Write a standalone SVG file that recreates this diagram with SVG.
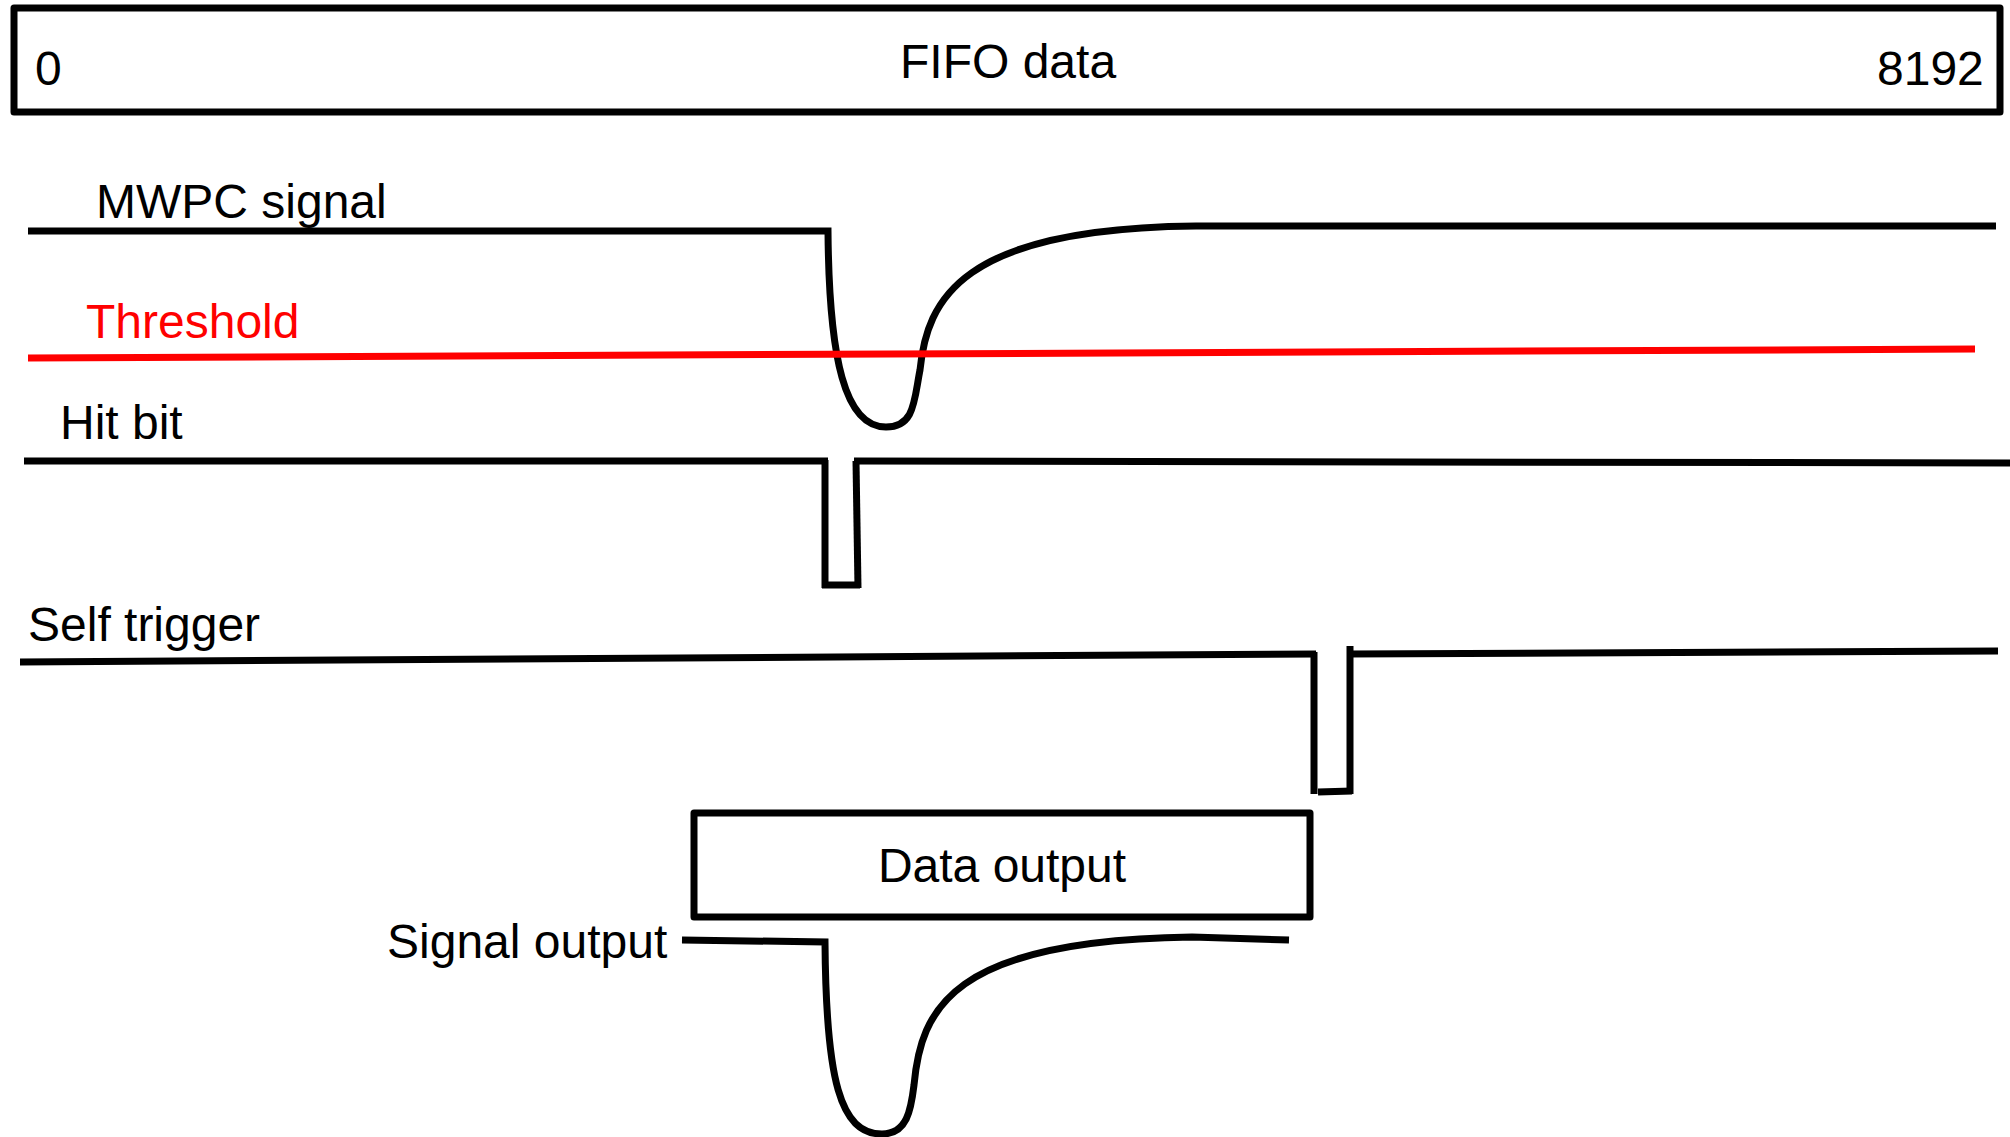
<svg xmlns="http://www.w3.org/2000/svg" width="2010" height="1137" viewBox="0 0 2010 1137">
<style>
  .lbl { font-family: "Liberation Sans", Arial, sans-serif; font-size: 48px; fill: #000; }
  .red { fill: #ff0000; }
  .box { fill: #fff; stroke: #000; stroke-width: 7; stroke-linejoin: round; }
  .wave { fill: none; stroke: #000; stroke-width: 7; }
  .thr { fill: none; stroke: #ff0000; stroke-width: 7; }
</style>
<rect width="2010" height="1137" fill="#fff"/>

<g id="fifo">
  <rect class="box" x="14" y="8" width="1986" height="104"/>
  <text class="lbl" x="35" y="85">0</text>
  <text class="lbl" x="900" y="78">FIFO data</text>
  <text class="lbl" x="1877" y="85">8192</text>
</g>

<g id="labels">
  <text class="lbl" x="96" y="218">MWPC signal</text>
  <text class="lbl red" x="86" y="338">Threshold</text>
  <text class="lbl" x="60" y="439">Hit bit</text>
  <text class="lbl" x="28" y="641">Self trigger</text>
  <text class="lbl" x="387" y="958">Signal output</text>
</g>

<g id="data-output">
  <rect class="box" x="694" y="813" width="616" height="104"/>
  <text class="lbl" x="1002" y="882" text-anchor="middle">Data output</text>
</g>

<g id="connectors">
  <path id="mwpc" class="wave" d="M 28 231 L 828 231 C 829 360, 845 427, 886 427 C 915 427, 914 400, 920 370 C 927 300, 960 228, 1196 226 L 1996 226"/>
  <path id="threshold" class="thr" d="M 28 358 L 1975 349"/>
  <g id="hitbit" class="wave">
    <path d="M 24 461 L 828 461"/>
    <path d="M 825 460 L 825 588"/>
    <path d="M 822 585 L 860 585"/>
    <path d="M 858 588 L 856 461"/>
    <path d="M 854 461 L 2010 463"/>
  </g>
  <g id="selftrigger" class="wave">
    <path d="M 20 662 L 1316 654"/>
    <path d="M 1314 652 L 1314 794"/>
    <path d="M 1318 792 L 1352 791"/>
    <path d="M 1350 794 L 1350 646"/>
    <path d="M 1348 654 L 1998 651"/>
  </g>
  <path id="signal-output" class="wave" d="M 682 940 L 825 942 C 826 1080, 840 1134, 882 1134 C 907 1134, 911 1110, 914 1085 C 921 1010, 950 940, 1192 937 L 1289 940"/>
</g>
</svg>
